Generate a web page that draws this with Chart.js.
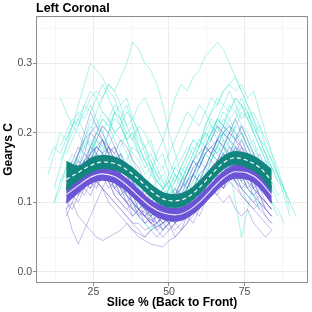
<!DOCTYPE html>
<html>
<head>
<meta charset="utf-8">
<script src="https://cdn.jsdelivr.net/npm/chart.js@4"></script>
<style>
  html, body { margin: 0; padding: 0; background: #fff; }
  #wrap { width: 312px; height: 312px; }
</style>
</head>
<body>
<div id="wrap"><canvas id="geary"></canvas></div>
<script>
// slice positions (%) shared by every individual curve
const slices = [10,12,14,16,18,20,22,24,26,28,30,32,34,36,38,40,42,44,46,48,50,52,54,56,58,60,62,64,66,68,70,72,74,76,78,80,82,84,86,88,90,92];

// individual turquoise curves
const turqLines = [
  [null,null,null,0.17,0.19,0.21,0.23,0.25,0.26,0.25,0.27,0.26,0.28,0.30,0.33,0.32,0.30,0.29,0.27,0.24,0.20,0.17,0.14,0.12,0.11,0.12,0.14,0.16,0.18,0.17,0.19,0.18,0.16,0.15,null,null,null,null,null,null,null,null],
  [null,0.12,0.15,0.18,0.21,0.24,0.27,0.30,0.29,0.28,0.26,0.25,0.22,0.19,0.16,0.14,0.12,0.11,0.10,0.09,0.10,0.11,0.10,0.12,0.13,0.15,0.17,0.16,0.18,0.17,0.15,0.14,0.12,0.10,null,null,null,null,null,null,null,null],
  [null,null,null,null,null,null,null,null,null,null,null,null,null,null,null,0.10,0.12,0.14,0.17,0.19,0.22,0.25,0.27,0.26,0.28,0.29,0.31,0.32,0.33,0.32,0.30,0.28,0.26,0.24,0.22,0.20,null,null,null,null,null,null],
  [null,null,null,null,null,null,null,null,null,null,0.16,0.15,0.17,0.15,0.14,0.12,0.11,0.10,0.11,0.12,0.14,0.16,0.18,0.20,0.22,0.21,0.23,0.25,0.24,0.26,0.27,0.26,0.27,0.25,0.26,0.23,0.20,0.17,0.14,0.11,0.08,null],
  [null,0.10,0.12,0.15,0.17,0.16,0.19,0.21,0.20,0.22,0.21,0.19,0.17,0.15,0.13,0.12,0.10,0.09,0.08,0.07,0.08,0.09,0.11,0.13,0.14,0.16,0.18,0.20,0.21,0.23,0.22,0.20,0.19,0.17,0.15,0.13,0.11,null,null,null,null,null],
  [0.14,0.17,0.20,0.19,0.21,0.23,0.22,0.24,0.22,0.20,0.18,0.16,0.14,0.13,0.11,0.10,0.09,0.08,0.09,0.10,0.12,0.14,0.13,0.15,0.17,0.19,0.18,0.20,0.22,0.21,0.19,0.17,0.15,0.14,0.12,null,null,null,null,null,null,null],
  [null,null,0.25,0.23,0.21,0.22,0.20,0.18,0.19,0.17,0.15,0.14,0.12,0.11,0.10,0.08,0.07,0.06,0.07,0.08,0.09,0.08,0.10,0.11,0.12,0.14,0.15,0.17,0.18,0.20,0.21,0.19,0.20,0.18,0.16,0.14,0.15,0.12,0.10,null,null,null],
  [null,null,null,null,0.13,0.15,0.18,0.20,0.23,0.25,0.27,0.26,0.24,0.25,0.22,0.20,0.17,0.15,0.12,0.10,0.08,0.07,0.08,0.09,0.11,0.13,0.12,0.14,0.16,0.15,0.17,0.19,0.21,0.20,0.18,0.16,0.13,0.10,0.08,null,null,null],
  [null,null,null,0.12,0.13,0.15,0.14,0.16,0.17,0.16,0.15,0.13,0.14,0.12,0.11,0.09,0.10,0.08,0.09,0.10,0.11,0.13,0.15,0.17,0.19,0.18,0.20,0.22,0.21,0.19,0.15,0.10,0.05,0.09,0.13,0.15,0.14,0.12,null,null,null,null],
  [null,null,null,null,null,0.11,0.13,0.12,0.14,0.16,0.18,0.20,0.21,0.23,0.22,0.24,0.25,0.23,0.21,0.19,0.16,0.14,0.12,0.13,0.11,0.12,0.14,0.13,0.15,0.17,0.16,0.18,0.17,0.15,0.13,0.14,0.12,0.10,0.09,0.07,null,null],
  [null,null,null,null,null,0.13,0.16,0.18,0.17,0.19,0.16,0.14,0.12,0.10,0.09,0.08,0.07,0.06,0.07,0.06,0.08,0.10,0.12,0.14,0.16,0.18,0.21,0.23,0.24,0.26,0.27,0.28,0.26,0.24,0.22,0.19,0.17,0.14,null,null,null,null],
  [null,null,0.16,0.18,0.20,0.22,0.24,0.23,0.25,0.23,0.22,0.20,0.19,0.17,0.15,0.14,0.13,0.12,0.13,0.12,0.13,0.15,0.16,0.18,0.17,0.19,0.20,0.19,0.21,0.20,0.22,0.23,0.21,0.19,0.17,0.18,0.16,0.15,0.13,0.12,null,null],
  [null,null,null,0.14,0.15,0.17,0.18,0.17,0.19,0.18,0.17,0.15,0.13,0.12,0.13,0.11,0.10,0.11,0.10,0.12,0.11,0.12,0.14,0.13,0.15,0.16,0.17,0.18,0.17,0.19,0.18,0.17,0.16,0.17,0.15,0.14,0.12,null,null,null,null,null],
  [null,null,null,null,null,null,null,null,0.12,0.14,0.13,0.15,0.17,0.16,0.18,0.17,0.15,0.16,0.14,0.15,0.17,0.19,0.21,0.23,0.22,0.24,0.23,0.21,0.19,0.20,0.18,0.16,0.14,0.12,0.11,0.09,null,null,null,null,null,null],
  [null,null,0.18,0.20,0.22,0.21,0.24,0.26,0.25,0.27,0.25,0.23,0.24,0.21,0.19,0.17,0.18,0.15,0.14,0.12,0.13,0.11,0.12,0.14,0.16,0.15,0.18,0.20,0.22,0.21,0.24,0.23,0.25,0.23,0.21,0.19,0.17,0.15,0.13,null,null,null],
  [null,null,null,null,0.15,0.17,0.19,0.22,0.21,0.23,0.22,0.20,0.21,0.19,0.17,0.16,0.14,0.15,0.13,0.12,0.11,0.12,0.10,0.11,0.13,0.15,0.17,0.16,0.19,0.21,0.20,0.22,0.24,0.23,0.21,0.19,0.18,0.16,0.14,0.12,null,null],
  [null,null,null,null,null,0.12,0.14,0.16,0.19,0.18,0.20,0.23,0.22,0.24,0.21,0.19,0.18,0.16,0.14,0.13,0.11,0.10,0.09,0.11,0.12,0.14,0.13,0.16,0.18,0.20,0.19,0.21,0.20,0.18,0.19,0.16,0.14,0.12,null,null,null,null],
  [null,0.10,0.13,0.15,0.14,0.17,0.19,0.18,0.20,0.19,0.17,0.18,0.16,0.15,0.13,0.14,0.12,0.11,0.10,0.09,0.10,0.08,0.10,0.12,0.14,0.13,0.15,0.17,0.16,0.18,0.17,0.15,0.14,0.12,0.11,0.09,null,null,null,null,null,null],
  [null,null,null,null,null,null,0.14,0.16,0.18,0.17,0.20,0.22,0.21,0.19,0.20,0.18,0.16,0.17,0.15,0.13,0.12,0.14,0.13,0.15,0.17,0.16,0.18,0.20,0.22,0.21,0.23,0.25,0.24,0.22,0.23,0.21,0.19,0.17,0.15,0.12,0.10,null],
  [null,null,null,0.11,0.13,0.12,0.15,0.14,0.16,0.15,0.14,0.12,0.13,0.11,0.10,0.09,0.10,0.08,0.09,0.08,0.07,0.08,0.10,0.09,0.11,0.13,0.12,0.14,0.16,0.15,0.17,0.16,0.14,0.15,0.13,0.11,0.10,null,null,null,null,null],
  [null,null,null,null,null,null,null,0.17,0.19,0.21,0.20,0.23,0.21,0.19,0.20,0.17,0.16,0.14,0.13,0.14,0.12,0.13,0.15,0.14,0.16,0.18,0.20,0.19,0.22,0.24,0.23,0.25,0.24,0.22,0.20,0.21,0.18,0.16,0.14,null,null,null],
  [0.16,0.18,0.17,0.19,0.21,0.20,0.18,0.19,0.17,0.15,0.16,0.14,0.13,0.12,0.13,0.11,0.10,0.11,0.09,0.10,0.12,0.11,0.13,0.15,0.14,0.16,0.18,0.17,0.19,0.18,0.16,0.15,0.13,null,null,null,null,null,null,null,null,null],
  [null,null,null,null,null,null,null,null,null,0.20,0.22,0.24,0.23,0.21,0.22,0.20,0.18,0.19,0.16,0.15,0.13,0.15,0.14,0.16,0.18,0.17,0.19,0.21,0.20,0.22,0.21,0.19,0.20,0.18,0.17,0.15,0.16,0.13,0.11,0.12,0.09,null],
  [null,null,null,null,0.14,0.16,0.15,0.17,0.20,0.22,0.21,0.23,0.22,0.20,0.21,0.18,0.16,0.15,0.13,0.12,0.13,0.11,0.12,0.14,0.16,0.15,0.17,0.19,0.18,0.20,0.19,0.21,0.23,0.22,0.20,0.18,0.16,0.13,null,null,null,null],
  [null,null,0.13,0.14,0.16,0.15,0.17,0.16,0.18,0.17,0.15,0.16,0.14,0.12,0.11,0.12,0.10,0.09,0.10,0.08,0.09,0.11,0.10,0.12,0.14,0.13,0.15,0.14,0.16,0.18,0.17,0.15,0.14,0.12,0.11,null,null,null,null,null,null,null],
  [null,null,null,null,null,null,null,null,null,null,null,null,0.18,0.20,0.19,0.21,0.20,0.18,0.16,0.17,0.14,0.13,0.15,0.17,0.19,0.18,0.21,0.23,0.25,0.24,0.26,0.24,0.22,0.23,0.20,0.18,0.17,0.15,0.14,0.12,0.10,0.08]
];

// individual purple curves
const purpLines = [
  [null,null,null,0.11,0.12,0.14,0.16,0.15,0.17,0.16,0.14,0.12,0.11,0.10,0.09,0.08,0.07,0.075,0.07,0.08,0.07,0.08,0.09,0.10,0.11,0.12,0.13,0.15,0.16,0.15,0.17,0.16,0.15,0.14,0.12,0.11,0.10,0.09,null,null,null,null],
  [null,null,null,0.13,0.15,0.17,0.19,0.20,0.21,0.20,0.18,0.16,0.14,0.12,0.11,0.10,0.09,0.08,0.09,0.08,0.09,0.10,0.11,0.12,0.14,0.15,0.17,0.18,0.19,0.18,0.20,0.19,0.17,0.16,0.14,0.13,0.12,0.11,null,null,null,null],
  [null,null,null,0.09,0.06,0.04,0.06,0.08,0.10,0.12,0.11,0.10,0.09,0.08,0.07,0.06,0.05,0.06,0.05,0.06,0.07,0.08,0.09,0.08,0.10,0.11,0.12,0.11,0.13,0.12,0.14,0.13,0.11,0.10,0.09,0.08,0.07,0.06,null,null,null,null],
  [null,null,null,0.10,0.11,0.13,0.12,0.14,0.13,0.12,0.10,0.09,0.08,0.07,0.06,0.05,0.045,0.04,0.038,0.036,0.045,0.05,0.06,0.07,0.08,0.10,0.11,0.12,0.14,0.13,0.15,0.14,0.12,0.11,0.10,0.09,0.08,0.07,null,null,null,null],
  [null,null,null,0.12,0.14,0.17,0.20,0.23,0.21,0.19,0.17,0.15,0.14,0.12,0.10,0.09,0.085,0.08,0.09,0.10,0.09,0.10,0.12,0.13,0.15,0.16,0.18,0.17,0.19,0.20,0.19,0.18,0.16,0.15,0.13,0.12,0.11,0.10,null,null,null,null],
  [null,null,null,0.11,0.12,0.13,0.14,0.13,0.15,0.14,0.13,0.12,0.11,0.10,0.09,0.085,0.08,0.075,0.08,0.07,0.075,0.08,0.085,0.09,0.10,0.11,0.12,0.13,0.14,0.15,0.14,0.15,0.14,0.13,0.12,0.11,0.10,0.09,null,null,null,null],
  [null,null,null,0.10,0.11,0.12,0.13,0.12,0.13,0.12,0.11,0.10,0.09,0.08,0.07,0.07,0.06,0.065,0.07,0.06,0.07,0.08,0.09,0.10,0.11,0.12,0.11,0.12,0.11,0.10,0.11,0.09,0.08,0.09,0.07,0.06,0.05,0.06,null,null,null,null],
  [null,null,null,0.11,0.13,0.14,0.16,0.17,0.18,0.17,0.15,0.14,0.13,0.11,0.10,0.09,0.10,0.09,0.10,0.11,0.10,0.11,0.12,0.14,0.16,0.17,0.18,0.19,0.21,0.20,0.21,0.20,0.18,0.17,0.15,0.14,0.13,0.12,null,null,null,null],
  [null,null,null,0.12,0.11,0.12,0.14,0.15,0.16,0.17,0.18,0.17,0.16,0.14,0.12,0.11,0.10,0.09,0.08,0.085,0.09,0.08,0.09,0.10,0.11,0.12,0.14,0.15,0.16,0.17,0.16,0.17,0.15,0.14,0.13,0.12,0.11,0.10,null,null,null,null],
  [null,null,null,0.09,0.10,0.08,0.07,0.06,0.05,0.045,0.05,0.055,0.06,0.07,0.06,0.055,0.05,0.06,0.065,0.07,0.08,0.07,0.08,0.09,0.10,0.11,0.10,0.12,0.13,0.12,0.13,0.12,0.11,0.10,0.09,0.10,0.08,0.07,null,null,null,null],
  [null,null,null,0.12,0.13,0.15,0.14,0.16,0.15,0.14,0.13,0.11,0.10,0.09,0.10,0.09,0.08,0.09,0.08,0.09,0.10,0.11,0.13,0.14,0.16,0.15,0.17,0.18,0.17,0.16,0.15,0.13,0.12,0.13,0.11,0.10,0.09,0.08,null,null,null,null],
  [null,null,null,0.10,0.12,0.14,0.15,0.17,0.18,0.19,0.17,0.16,0.14,0.13,0.11,0.10,0.09,0.08,0.07,0.08,0.075,0.08,0.10,0.11,0.12,0.14,0.15,0.16,0.15,0.17,0.16,0.14,0.13,0.12,0.11,0.12,0.10,0.09,null,null,null,null],
  [null,null,null,0.13,0.15,0.14,0.16,0.18,0.17,0.19,0.18,0.16,0.17,0.14,0.13,0.11,0.12,0.10,0.09,0.10,0.08,0.09,0.08,0.10,0.09,0.11,0.12,0.14,0.13,0.15,0.16,0.18,0.17,0.15,0.16,0.14,0.12,0.11,null,null,null,null],
  [null,null,null,0.10,0.09,0.11,0.12,0.11,0.13,0.12,0.14,0.13,0.11,0.12,0.10,0.09,0.08,0.09,0.07,0.08,0.07,0.06,0.07,0.08,0.07,0.09,0.10,0.12,0.11,0.13,0.14,0.13,0.15,0.14,0.12,0.13,0.11,0.10,null,null,null,null],
  [null,null,null,0.14,0.16,0.18,0.17,0.20,0.19,0.21,0.20,0.18,0.16,0.15,0.13,0.12,0.11,0.12,0.10,0.11,0.10,0.12,0.11,0.13,0.14,0.16,0.15,0.17,0.19,0.18,0.20,0.19,0.21,0.19,0.17,0.15,0.14,0.12,null,null,null,null],
  [null,null,null,0.09,0.11,0.10,0.12,0.14,0.13,0.15,0.14,0.12,0.13,0.11,0.10,0.08,0.09,0.07,0.06,0.07,0.06,0.07,0.08,0.09,0.11,0.10,0.12,0.13,0.15,0.14,0.16,0.15,0.13,0.14,0.12,0.10,0.09,0.08,null,null,null,null],
  [null,null,null,0.12,0.13,0.15,0.16,0.15,0.17,0.16,0.15,0.13,0.12,0.10,0.11,0.09,0.08,0.07,0.08,0.06,0.07,0.05,0.06,0.07,0.09,0.08,0.10,0.11,0.13,0.12,0.14,0.16,0.15,0.17,0.16,0.14,0.13,0.11,null,null,null,null],
  [null,null,null,0.11,0.12,0.14,0.13,0.15,0.14,0.16,0.15,0.14,0.12,0.13,0.11,0.10,0.09,0.10,0.08,0.09,0.07,0.08,0.09,0.10,0.12,0.11,0.13,0.15,0.14,0.16,0.18,0.17,0.19,0.17,0.15,0.14,0.12,0.13,null,null,null,null],
  [null,null,null,0.10,0.12,0.11,0.13,0.12,0.14,0.16,0.18,0.17,0.19,0.18,0.16,0.15,0.13,0.12,0.10,0.09,0.10,0.08,0.09,0.10,0.09,0.11,0.13,0.12,0.14,0.13,0.15,0.14,0.16,0.15,0.13,0.11,0.10,0.09,null,null,null,null],
  [null,null,null,0.13,0.14,0.13,0.15,0.17,0.16,0.14,0.15,0.13,0.12,0.11,0.09,0.10,0.08,0.07,0.08,0.07,0.08,0.09,0.08,0.10,0.11,0.10,0.12,0.14,0.16,0.15,0.17,0.16,0.18,0.16,0.15,0.13,0.12,0.10,null,null,null,null],
  [null,null,null,0.08,0.10,0.12,0.11,0.13,0.15,0.14,0.12,0.13,0.11,0.10,0.08,0.09,0.07,0.08,0.06,0.05,0.06,0.07,0.06,0.08,0.10,0.12,0.11,0.13,0.12,0.14,0.16,0.15,0.14,0.12,0.13,0.11,0.09,0.08,null,null,null,null],
  [null,null,null,0.12,0.14,0.16,0.15,0.18,0.20,0.19,0.17,0.18,0.16,0.14,0.12,0.13,0.11,0.10,0.11,0.09,0.10,0.11,0.13,0.12,0.14,0.16,0.18,0.17,0.19,0.21,0.20,0.22,0.20,0.18,0.16,0.17,0.15,0.13,null,null,null,null],
  [null,null,null,0.11,0.13,0.12,0.14,0.13,0.12,0.14,0.13,0.11,0.10,0.09,0.08,0.09,0.08,0.07,0.065,0.07,0.08,0.07,0.08,0.09,0.10,0.11,0.12,0.11,0.13,0.12,0.14,0.13,0.12,0.11,0.10,0.11,0.09,0.08,null,null,null,null],
  [null,null,null,0.10,0.12,0.15,0.17,0.16,0.18,0.17,0.15,0.16,0.14,0.12,0.13,0.11,0.10,0.09,0.10,0.09,0.08,0.10,0.11,0.12,0.14,0.13,0.15,0.17,0.16,0.18,0.17,0.19,0.18,0.16,0.17,0.15,0.13,0.12,null,null,null,null]
];

// smoothed group means with their confidence ribbons
const bandSlices = [16,20,24,28,32,36,40,44,48,52,56,60,64,68,72,76,80,84];
const tealMid   = [0.133,0.143,0.153,0.158,0.156,0.147,0.133,0.117,0.105,0.102,0.107,0.121,0.140,0.157,0.164,0.160,0.150,0.131];
const tealUpper = [0.160,0.153,0.164,0.168,0.166,0.157,0.143,0.127,0.115,0.112,0.117,0.131,0.150,0.167,0.174,0.171,0.162,0.148];
const tealLower = [0.116,0.131,0.142,0.148,0.146,0.137,0.123,0.107,0.095,0.092,0.097,0.111,0.130,0.147,0.154,0.149,0.138,0.115];
const purpMid   = [0.111,0.124,0.136,0.141,0.137,0.125,0.109,0.094,0.085,0.082,0.087,0.100,0.118,0.135,0.144,0.142,0.131,0.110];
const purpUpper = [0.126,0.135,0.146,0.151,0.147,0.135,0.119,0.104,0.095,0.092,0.097,0.110,0.128,0.145,0.154,0.152,0.142,0.125];
const purpLower = [0.098,0.113,0.126,0.131,0.127,0.115,0.099,0.084,0.075,0.072,0.077,0.090,0.108,0.125,0.134,0.132,0.120,0.097];

const xTicks = [12.5, 25, 37.5, 50, 62.5, 75, 87.5];
const yTicks = [0, 0.05, 0.1, 0.15, 0.2, 0.25, 0.3, 0.35];

const toPts = (xs, ys) => xs.map((x, i) => ({ x: x, y: ys[i] }));
const isMajorX = v => v % 25 === 0;
const isMajorY = v => Math.abs(v * 10 - Math.round(v * 10)) < 1e-9;

const thin = (ys, color) => ({
  data: toPts(slices, ys),
  borderColor: color,
  borderWidth: 0.8,
  pointRadius: 0,
  fill: false,
  tension: 0
});

const smooth = (ys, extra) => Object.assign({
  data: toPts(bandSlices, ys),
  pointRadius: 0,
  cubicInterpolationMode: 'monotone',
  fill: false
}, extra);

// first dataset is painted last, so ribbons go first
const datasets = [
  smooth(tealMid, { borderColor: '#ffffff', borderWidth: 1.2, borderDash: [4, 3] }),
  smooth(tealUpper, { borderWidth: 0, borderColor: 'rgba(0,0,0,0)', backgroundColor: '#12867e', fill: '+1' }),
  smooth(tealLower, { borderWidth: 0, borderColor: 'rgba(0,0,0,0)' }),
  smooth(purpMid, { borderColor: '#f0eaff', borderWidth: 1.1 }),
  smooth(purpUpper, { borderWidth: 0, borderColor: 'rgba(0,0,0,0)', backgroundColor: '#6b55d4', fill: '+1' }),
  smooth(purpLower, { borderWidth: 0, borderColor: 'rgba(0,0,0,0)' })
];
purpLines.forEach(ys => datasets.push(thin(ys, 'rgba(106,90,205,0.5)')));
turqLines.forEach(ys => datasets.push(thin(ys, 'rgba(64,224,208,0.55)')));

const panelBorder = {
  id: 'panelBorder',
  afterDatasetsDraw(chart) {
    const a = chart.chartArea;
    const ctx = chart.ctx;
    ctx.save();
    ctx.strokeStyle = '#8c8c8c';
    ctx.lineWidth = 1;
    ctx.strokeRect(Math.round(a.left) + 0.5, Math.round(a.top) + 0.5,
      Math.round(a.right - a.left) - 1, Math.round(a.bottom - a.top) - 1);
    ctx.restore();
  }
};

new Chart(document.getElementById('geary'), {
  type: 'line',
  data: { datasets: datasets },
  options: {
    responsive: true,
    maintainAspectRatio: false,
    animation: false,
    events: [],
    layout: { padding: { top: 0, right: 4, bottom: 0, left: 0 } },
    scales: {
      x: {
        type: 'linear',
        min: 6,
        max: 96,
        afterBuildTicks: s => { s.ticks = xTicks.map(v => ({ value: v })); },
        afterFit: s => { s.height = 29; },
        border: { display: false },
        grid: {
          color: c => isMajorX(c.tick.value) ? '#ebebeb' : '#f5f5f5',
          tickColor: c => isMajorX(c.tick.value) ? '#8c8c8c' : 'rgba(0,0,0,0)',
          tickLength: 3
        },
        ticks: {
          autoSkip: false,
          maxRotation: 0,
          padding: 0,
          color: '#4d4d4d',
          font: { family: 'Liberation Sans', size: 10.5 },
          callback: v => isMajorX(v) ? String(v) : ''
        },
        title: {
          display: true,
          text: 'Slice % (Back to Front)',
          color: '#000',
          font: { family: 'Liberation Sans', size: 12, weight: 'bold' },
          padding: { top: 0, bottom: 2 }
        }
      },
      y: {
        min: -0.016,
        max: 0.368,
        afterBuildTicks: s => { s.ticks = yTicks.map(v => ({ value: v })); },
        afterFit: s => { s.width = 36; },
        border: { display: false },
        grid: {
          color: c => isMajorY(c.tick.value) ? '#ebebeb' : '#f5f5f5',
          tickColor: c => isMajorY(c.tick.value) ? '#8c8c8c' : 'rgba(0,0,0,0)',
          tickLength: 3
        },
        ticks: {
          autoSkip: false,
          padding: 1,
          color: '#4d4d4d',
          font: { family: 'Liberation Sans', size: 10.5 },
          callback: v => isMajorY(v) ? v.toFixed(1) : ''
        },
        title: {
          display: true,
          text: 'Gearys C',
          color: '#000',
          font: { family: 'Liberation Sans', size: 12, weight: 'bold' },
          padding: { top: 1.5, bottom: 0 }
        }
      }
    },
    plugins: {
      legend: { display: false },
      tooltip: { enabled: false },
      title: {
        display: true,
        text: 'Left Coronal',
        align: 'start',
        fullSize: false,
        color: '#000',
        font: { family: 'Liberation Sans', size: 12.5, weight: 'bold', lineHeight: 1.2 },
        padding: { top: 1, bottom: 0 }
      }
    }
  },
  plugins: [panelBorder]
});
</script>
</body>
</html>
